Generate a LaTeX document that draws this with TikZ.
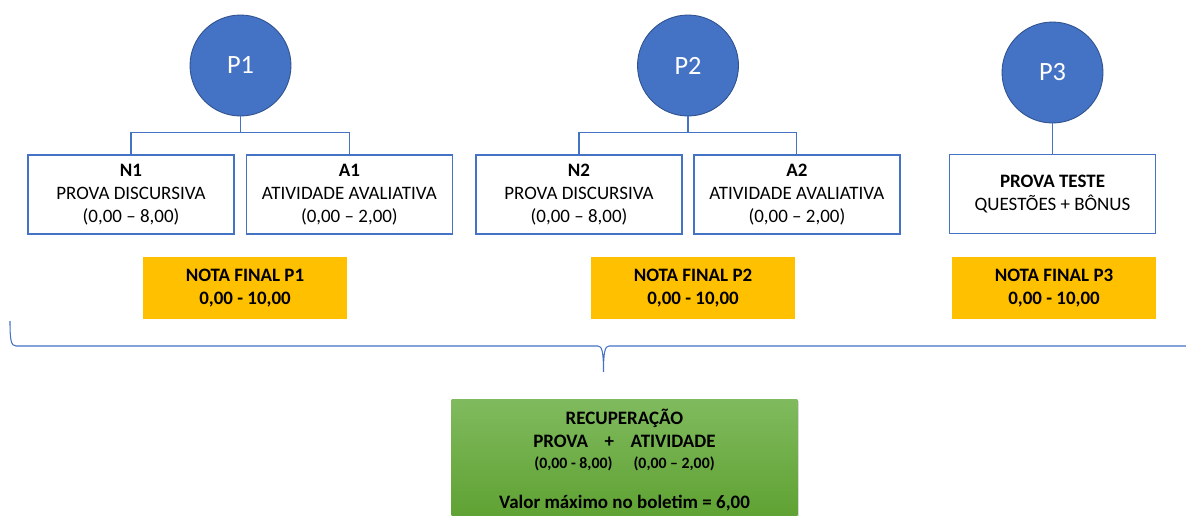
\documentclass[tikz,border=0pt]{standalone}
\usepackage{fontspec}
\setmainfont{Carlito}
\usetikzlibrary{
    positioning,
    shadows,
    calc
}
\definecolor{ofblue}{HTML}{4472C4}
\definecolor{ofdark}{HTML}{2F528F}
\definecolor{ofgold}{HTML}{FFC000}
\definecolor{greentop}{HTML}{80BA5E}
\definecolor{greenbot}{HTML}{5EA131}
\tikzset{
  prova/.style = {
      circle,
      fill=ofblue,
      draw=ofdark,
      line width=0.5pt,
      minimum size=2.02cm,
      inner sep=0pt,
      text=white,
      font=\fontsize{15}{18}\selectfont
  },
  item/.style = {
      draw=ofblue,
      line width=0.8pt,
      fill=white,
      minimum width=4.12cm,
      minimum height=1.58cm,
      inner sep=0pt,
      align=center,
      font=\fontsize{10.8}{13}\selectfont
  },
  nota/.style = {
      fill=ofgold,
      minimum width=4.08cm,
      minimum height=1.24cm,
      inner sep=0pt,
      align=center,
      font=\bfseries\fontsize{10.8}{13}\selectfont
  },
  recup/.style = {
      top color=greentop,
      bottom color=greenbot,
      drop shadow={opacity=0.3, shadow xshift=1pt, shadow yshift=-1pt},
      minimum width=6.92cm,
      minimum height=2.44cm,
      inner sep=0pt,
      align=center,
      font=\bfseries\fontsize{10.8}{13}\selectfont
  },
  link/.style = {
      draw=ofblue,
      line width=0.6pt
  },
  chave/.style = {
      draw=ofblue,
      line width=0.6pt
  }
}

\begin{document}
\begin{tikzpicture}[x=0.02cm, y=-0.02cm]
    \useasboundingbox (0,0) rectangle (1186,515);
    \clip (0,0) rectangle (1186,515);
    % Provas
    \node[prova] (p1) at (240.5,65.5) {P1};
    \node[prova] (p2) at (688,65.5) {P2};
    \node[prova] (p3) at (1052.5,72.5) {P3};
    % Componentes
    \node[item] (n1) at (131,194.5) {\textbf{N1}\\PROVA DISCURSIVA\\(0,00 – 8,00)};
    \node[item, right=0.22cm of n1] (a1) {\textbf{A1}\\ATIVIDADE AVALIATIVA\\(0,00 – 2,00)};
    \node[item] (n2) at (579,194.5) {\textbf{N2}\\PROVA DISCURSIVA\\(0,00 – 8,00)};
    \node[item, right=0.21cm of n2] (a2) {\textbf{A2}\\ATIVIDADE AVALIATIVA\\(0,00 – 2,00)};
    \node[item] (t3) at (1052.5,194) {\textbf{PROVA TESTE}\\QUESTÕES + BÔNUS};
    % Notas finais
    \node[nota] (f1) at (245,288) {NOTA FINAL P1\\0,00 - 10,00};
    \node[nota] (f2) at (693,288) {NOTA FINAL P2\\0,00 - 10,00};
    \node[nota] (f3) at (1054,288) {NOTA FINAL P3\\0,00 - 10,00};
    % Recuperacao
    \node[recup] (rec) at (624.5,460) {RECUPERAÇÃO\\
        PROVA\hspace{7pt} + \hspace{7pt}ATIVIDADE\\[-1pt]
        {\fontsize{9}{11}\selectfont (0,00 - 8,00)\hspace{12pt}(0,00 – 2,00)}\\[10pt]
        Valor máximo no boletim = 6,00};
    % Ligacoes
    \draw[link] (p1.south) -- ++(0,16) coordinate (j1) -| (n1.north);
    \draw[link] (j1) -| (a1.north);
    \draw[link] (p2.south) -- ++(0,16) coordinate (j2) -| (n2.north);
    \draw[link] (j2) -| (a2.north);
    \draw[link] (p3.south) -- (t3.north);
    % Chave
    \coordinate (ch1) at (10,321);
    \coordinate (ch2) at (603.5,372);
    \draw[chave] (ch1) .. controls (10,340) and (11,346) .. (16,346)
        -- (598,346) .. controls (602,346) and (ch2 |- 0,352) .. (ch2)
        .. controls (ch2 |- 0,352) and (605,346) .. (609,346) -- (1190,346);
\end{tikzpicture}
\end{document}
